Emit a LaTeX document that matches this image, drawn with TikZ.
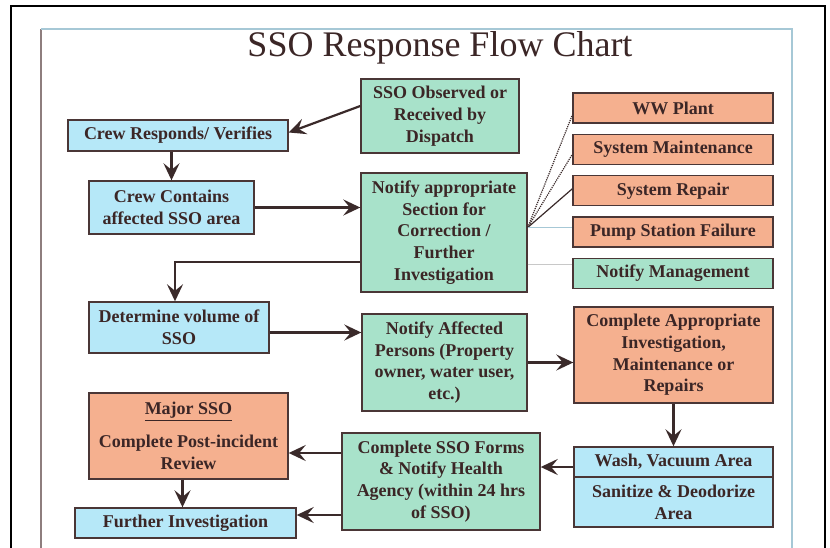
\documentclass[tikz,border=0pt]{standalone}
\usepackage{fontspec}
\setmainfont{Liberation Serif}
\usetikzlibrary{arrows.meta, positioning, calc}
\definecolor{ssoGreen}{HTML}{A8E2CA}
\definecolor{ssoBlue}{HTML}{B6E8F8}
\definecolor{ssoOrange}{HTML}{F5B08F}
\definecolor{ssoEdge}{HTML}{4A3636}
\definecolor{ssoInk}{HTML}{3B2626}
\definecolor{ssoArrow}{HTML}{3A2A2A}
\definecolor{ssoSky}{HTML}{A6C8D6}
\definecolor{ssoTaupe}{HTML}{8E7E7E}
\definecolor{ssoGrey}{HTML}{C8C8C8}

\begin{document}
\begin{tikzpicture}[x=1pt, y=-1pt,
    box/.style={draw=ssoEdge, line width=1.4pt, text=ssoInk, align=center, inner sep=2pt, font=\bfseries\fontsize{18}{21.7}\selectfont},
    gbox/.style={box, fill=ssoGreen},
    bbox/.style={box, fill=ssoBlue},
    obox/.style={box, fill=ssoOrange, minimum width=200pt, minimum height=30pt},
    arr/.style={-{Stealth[length=17pt, width=16pt, inset=6.5pt]}, ssoArrow, line width=2.2pt},
    tie/.style={line width=1.2pt}]
    \useasboundingbox (0,0) rectangle (830,548);
    % page frames
    \draw[line width=2pt] (11,548) -- (11,6) -- (825,6) -- (825,548);
    \draw[ssoTaupe, line width=1.3pt] (41,548) -- (41,29);
    \draw[ssoSky, line width=1.3pt] (41,29) -- (792,29) -- (792,548);
    \node[text=ssoInk, font=\fontsize{36}{40}\selectfont] (title) at (440,48) {SSO Response Flow Chart};

    % first column / dispatch
    \node[gbox, minimum width=158pt, minimum height=74pt] (obs) at (440,116) {SSO Observed or\\Received by\\Dispatch};
    \node[bbox, minimum width=220pt, minimum height=31pt] (resp) at (178,135.5) {Crew Responds/ Verifies};
    \node[bbox, minimum width=165pt, minimum height=53pt] (cont) at (171.5,207.5) {Crew Contains\\affected SSO area};
    \node[gbox, minimum width=166pt, minimum height=119pt] (notif) at (444,232.5) {Notify appropriate\\Section for\\Correction /\\Further\\Investigation};

    % sections to notify
    \node[obox] (ww) at (673,108) {WW Plant};
    \node[obox, below=10pt of ww] (maint) {System Maintenance};
    \node[obox, below=10pt of maint] (rep) {System Repair};
    \node[obox, below=10pt of rep] (pump) {Pump Station Failure};
    \node[gbox, minimum width=200pt, minimum height=30pt, below=10pt of pump] (mgmt) {Notify Management};

    % response steps
    \node[bbox, minimum width=180pt, minimum height=51pt] (det) at (179,327.5) {Determine volume of\\SSO};
    \node[gbox, minimum width=165pt, minimum height=97pt] (aff) at (444.5,362.5) {Notify Affected\\Persons (Property\\owner, water user,\\etc.)};
    \node[obox, minimum width=199pt, minimum height=96pt] (appr) at (673.5,355) {Complete Appropriate\\Investigation,\\Maintenance or\\Repairs};
    \node[bbox, minimum width=199pt, minimum height=30pt] (wash) at (673.5,462) {Wash, Vacuum Area};
    \node[bbox, minimum width=199pt, minimum height=50pt, below=-1.4pt of wash] (sanit) {Sanitize \& Deodorize\\Area};
    \node[gbox, minimum width=198pt, minimum height=97pt] (forms) at (441,481.5) {Complete SSO Forms\\\& Notify Health\\Agency (within 24 hrs\\of SSO)};
    \node[obox, minimum width=199pt, minimum height=86pt] (major) at (188.5,436) {\underline{Major SSO}\\[11pt]Complete Post-incident\\Review};
    \node[bbox, minimum width=221pt, minimum height=30pt] (further) at (185.5,523) {Further Investigation};

    % links to the sections
    \coordinate (hub) at ($(notif.east)+(0,-5)$);
    \draw[ssoArrow, tie, densely dotted] (hub) -- ([yshift=-7pt]ww.west);
    \draw[ssoArrow, tie, densely dotted] (hub) -- ([yshift=-5pt]maint.west);
    \draw[ssoArrow, tie] (hub) -- ([yshift=2pt]rep.west);
    \draw[ssoSky, tie] (hub) -- (hub -| pump.west);
    \draw[ssoGrey, tie] ([yshift=-32pt]notif.east) -- ([yshift=-32pt]notif.east -| mgmt.west);

    % main flow
    \draw[arr] ([yshift=10pt]obs.west) -- ([yshift=3pt]resp.east);
    \draw[arr] (cont.north |- resp.south) -- (cont.north);
    \draw[arr] (cont.east) -- (cont.east -| notif.west);
    \draw[arr] ([yshift=-29.5pt]notif.west) -| ([xshift=-4pt]det.north);
    \draw[arr] ([yshift=-5pt]det.east) -- ([yshift=-5pt]det.east -| aff.west);
    \draw[arr] (aff.east) -- (aff.east -| appr.west);
    \draw[arr] (appr.south) -- (wash.north);
    \draw[arr] ([yshift=-5pt]wash.west) -- ([yshift=-5pt]wash.west -| forms.east);
    \draw[arr] ([yshift=28.5pt]forms.west) -- ([yshift=28.5pt]forms.west -| major.east);
    \draw[arr] ([yshift=8pt]forms.west |- further.east) -- ([yshift=8pt]further.east);
    \draw[arr] ([xshift=-6pt]major.south) -- ([xshift=-6pt]major.south |- further.north);
\end{tikzpicture}
\end{document}
